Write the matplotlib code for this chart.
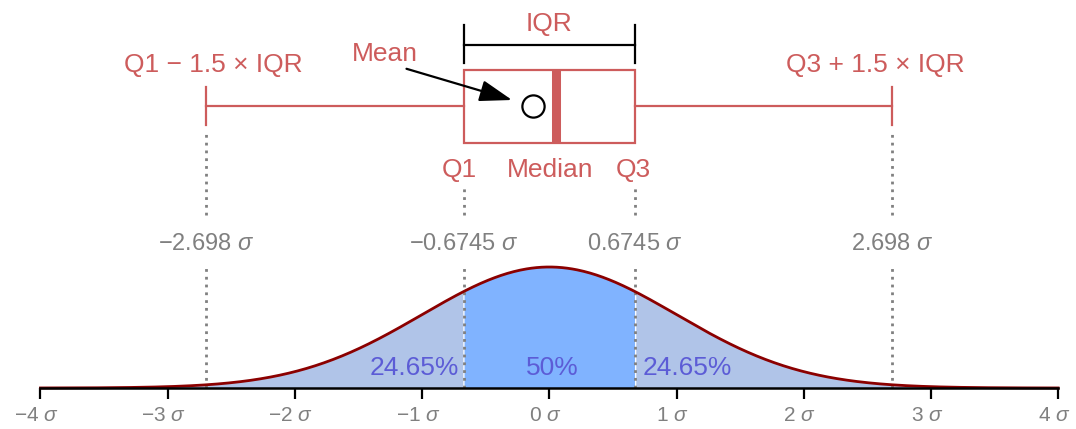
import numpy as np
import matplotlib
matplotlib.use("Agg")
import matplotlib.pyplot as plt
import matplotlib.transforms as mtransforms
from matplotlib.patches import Rectangle

plt.rcParams["font.family"] = ["Liberation Sans", "DejaVu Sans"]
plt.rcParams["mathtext.fontset"] = "custom"
plt.rcParams["mathtext.rm"] = "Liberation Sans"
plt.rcParams["mathtext.it"] = "Liberation Sans:italic"

# --- values -------------------------------------------------------------
sigma_ticks = [-4, -3, -2, -1, 0, 1, 2, 3, 4]
tick_labels = ["−4 $\\sigma$", "−3 $\\sigma$", "−2 $\\sigma$", "−1 $\\sigma$", "0 $\\sigma$",
               "1 $\\sigma$", "2 $\\sigma$", "3 $\\sigma$", "4 $\\sigma$"]
q1, q3 = -0.6745, 0.6745
whisker_lo, whisker_hi = -2.698, 2.698
median_val = 0.05
mean_val = -0.13
tail_pct = 24.65
center_pct = 50
marker_labels = ["−2.698 $\\sigma$", "−0.6745 $\\sigma$", "0.6745 $\\sigma$", "2.698 $\\sigma$"]
marker_pos = [whisker_lo, q1, q3, whisker_hi]

# --- styling ------------------------------------------------------------
RED = "#cd5c5c"
GRAY = "#808080"
CURVE = "#8b0000"
TAIL = "#b0c4e8"
CENTER = "#80b3ff"
PCT = "#5c5cd6"
FS_RED = 19
FS_GRAY = 17
FS_TICK = 15
FS_PCT = 19

W, H = 1076, 429
fig = plt.figure(figsize=(W / 100, H / 100), dpi=100)
ax = fig.add_axes([0, 0, 1, 1])
x0_px, scale_px = 549.3, 127.2
ax.set_xlim(-x0_px / scale_px, (W - x0_px) / scale_px)
ax.set_ylim(0, H)


def Y(top):
    # vertical position measured from the top edge of the canvas
    return H - top


base = Y(388)
height = 121 / (1 / np.sqrt(2 * np.pi))

# --- normal density ------------------------------------------------------
x = np.linspace(-4, 4, 801)
pdf = np.exp(-x ** 2 / 2) / np.sqrt(2 * np.pi)
yc = base + height * pdf
ax.fill_between(x, base, yc, where=(x <= q1 + 1e-9), color=TAIL, lw=0, zorder=1)
ax.fill_between(x, base, yc, where=(x >= q3 - 1e-9), color=TAIL, lw=0, zorder=1)
ax.fill_between(x, base, yc, where=(x >= q1) & (x <= q3), color=CENTER, lw=0, zorder=1)
ax.plot(x, yc, color=CURVE, lw=2, zorder=4)

# dotted guides
dots = dict(color=GRAY, lw=2, linestyle=(0, (1, 1.8)), zorder=2)
for p in marker_pos:
    ax.plot([p, p], [base, Y(265)], **dots)
for p in (whisker_lo, whisker_hi):
    ax.plot([p, p], [Y(215), Y(133)], **dots)
for p in (q1, q3):
    ax.plot([p, p], [Y(215), Y(186)], **dots)
for p, lab in zip(marker_pos, marker_labels):
    ax.text(p, Y(244), lab, color=GRAY, fontsize=FS_GRAY, ha="center", va="center")

# percentages
ax.text(q1 - 0.035, Y(368), f"{tail_pct}%", color=PCT, fontsize=FS_PCT, ha="right", va="center", zorder=3)
ax.text(q3 + 0.06, Y(368), f"{tail_pct}%", color=PCT, fontsize=FS_PCT, ha="left", va="center", zorder=3)
ax.text(0.025, Y(368), f"{center_pct}%", color=PCT, fontsize=FS_PCT, ha="center", va="center", zorder=3)

# --- box plot -------------------------------------------------------------
box_top, box_bot = Y(70), Y(142.7)
ax.add_patch(Rectangle((q1, box_bot), q3 - q1, box_top - box_bot, facecolor="white",
                       edgecolor=RED, lw=1.6, zorder=3))
ax.plot([median_val, median_val], [box_bot, box_top], color=RED, lw=6.5,
        solid_capstyle="butt", zorder=4)
wy = Y(106)
ax.plot([whisker_lo, q1], [wy, wy], color=RED, lw=1.6, zorder=3)
ax.plot([q3, whisker_hi], [wy, wy], color=RED, lw=1.6, zorder=3)
for p in (whisker_lo, whisker_hi):
    ax.plot([p, p], [Y(87), Y(125)], color=RED, lw=1.6, zorder=3)
ax.plot([mean_val], [wy], marker="o", ms=16, mfc="white", mec="black", mew=1.6, zorder=5)

# IQR bracket
iy = Y(45)
ax.plot([q1, q3], [iy, iy], color="black", lw=1.6)
for p in (q1, q3):
    ax.plot([p, p], [Y(25), Y(63)], color="black", lw=1.6)
ax.text(0.0, Y(24), "IQR", color=RED, fontsize=FS_RED, ha="center", va="center")

# labels
ax.text(-2.644, Y(65), "Q1 − 1.5 × IQR", color=RED, fontsize=FS_RED, ha="center", va="center")
ax.text(2.56, Y(65), "Q3 + 1.5 × IQR", color=RED, fontsize=FS_RED, ha="center", va="center")
ax.text(q1 - 0.03, Y(170), "Q1", color=RED, fontsize=FS_RED, ha="center", va="center")
ax.text(0.005, Y(170), "Median", color=RED, fontsize=FS_RED, ha="center", va="center")
ax.text(q3 - 0.015, Y(170), "Q3", color=RED, fontsize=FS_RED, ha="center", va="center")

ax.annotate("Mean", xy=(-0.293, Y(100)), xytext=(-1.29, Y(54)), color=RED, fontsize=FS_RED,
            ha="center", va="center",
            arrowprops=dict(arrowstyle="-|>,head_length=1.0,head_width=0.33",
                            mutation_scale=20, color="black", lw=1.6,
                            shrinkA=0, shrinkB=0, relpos=(0.68, 0.0)))

# --- axis -----------------------------------------------------------------
for s in ("left", "top", "right"):
    ax.spines[s].set_visible(False)
ax.spines["bottom"].set_position(("data", base))
ax.spines["bottom"].set_bounds(-4, 4)
ax.spines["bottom"].set_linewidth(1.8)
ax.spines["bottom"].set_zorder(6)
ax.set_yticks([])
ax.set_xticks(sigma_ticks)
ax.set_xticklabels(tick_labels)
ax.tick_params(axis="x", direction="out", length=8, width=1.6, color="black",
               labelcolor=GRAY, labelsize=FS_TICK, pad=5)
shift = mtransforms.ScaledTranslation(-4 / 100, 0, fig.dpi_scale_trans)
for lab in ax.get_xticklabels():
    lab.set_transform(lab.get_transform() + shift)
ax.patch.set_visible(False)

fig.savefig("out.png", dpi=100)
